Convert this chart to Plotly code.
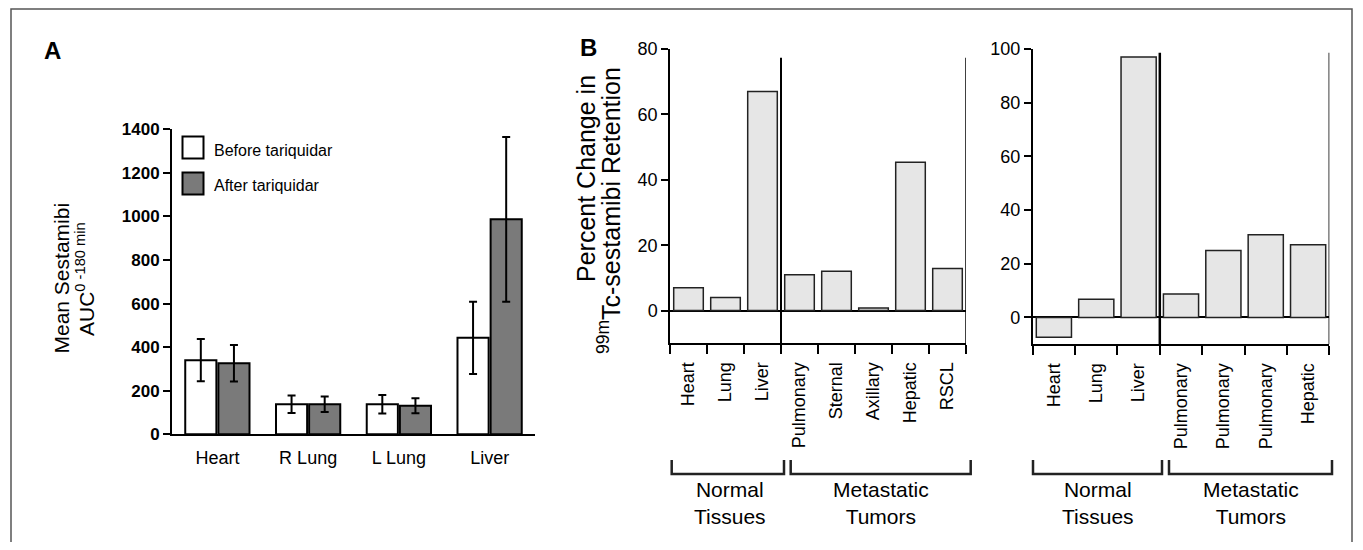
import plotly.graph_objects as go

# ---------------- data ----------------
a_categories = ["Heart", "R Lung", "L Lung", "Liver"]
a_before = [340, 138, 138, 443]
a_before_err = [97, 40, 42, 166]
a_after = [326, 138, 131, 987]
a_after_err = [84, 36, 34, 378]
a_ticks = [0, 200, 400, 600, 800, 1000, 1200, 1400]

b1_labels = ["Heart", "Lung", "Liver", "Pulmonary", "Sternal", "Axillary", "Hepatic", "RSCL"]
b1_values = [7, 4, 67, 11, 12, 0.8, 45.4, 12.9]
b1_normal = 3
b1_ticks = [0, 20, 40, 60, 80]

b2_labels = ["Heart", "Lung", "Liver", "Pulmonary", "Pulmonary", "Pulmonary", "Hepatic"]
b2_values = [-7.4, 6.8, 97, 8.7, 24.9, 30.8, 27.1]
b2_normal = 3
b2_ticks = [0, 20, 40, 60, 80, 100]

group_names = ["Normal<br>Tissues", "Metastatic<br>Tumors"]

# ---------------- helpers (screen pixel -> paper) ----------------
OFF = 8  # page body margin
W, H = 1363 - 2 * OFF, 550 - 2 * OFF
def X(px): return (px - OFF) / W
def Y(py): return 1 - (py - OFF) / H

FONT = "Liberation Sans, Arial, Helvetica, sans-serif"
fig = go.Figure()

# ---------------- panel A ----------------
fig.add_trace(go.Bar(
    x=a_categories, y=a_before, name="Before tariquidar",
    marker=dict(color="white", line=dict(color="black", width=2)),
    error_y=dict(type="data", array=a_before_err, color="black", thickness=2, width=4),
    xaxis="x", yaxis="y", showlegend=False))
fig.add_trace(go.Bar(
    x=a_categories, y=a_after, name="After tariquidar",
    marker=dict(color="#7a7a7a", line=dict(color="black", width=2)),
    error_y=dict(type="data", array=a_after_err, color="black", thickness=2, width=4),
    xaxis="x", yaxis="y", showlegend=False))

# ---------------- panel B1 ----------------
fig.add_trace(go.Bar(
    x=list(range(len(b1_labels))), y=b1_values, width=0.8,
    marker=dict(color="#e6e6e6", line=dict(color="#222", width=1.5)),
    xaxis="x2", yaxis="y2", showlegend=False))

# ---------------- panel B2 ----------------
fig.add_trace(go.Bar(
    x=list(range(len(b2_labels))), y=b2_values, width=0.83,
    marker=dict(color="#e6e6e6", line=dict(color="#222", width=1.5)),
    xaxis="x3", yaxis="y3", showlegend=False))

axis_common = dict(showgrid=False, zeroline=False, linecolor="black", color="black",
                   automargin=False)

fig.update_layout(
    width=W, height=H,
    margin=dict(l=0, r=0, t=0, b=0, pad=0, autoexpand=False),
    paper_bgcolor="white", plot_bgcolor="rgba(0,0,0,0)",
    font=dict(family=FONT, color="black"),
    barmode="group", bargap=0.27, bargroupgap=0.06,
    xaxis=dict(domain=[X(172), X(535)], anchor="y", showline=True, linewidth=2,
               ticks="", tickfont=dict(size=18), showgrid=False, zeroline=False,
               linecolor="black", ticklabelstandoff=6, automargin=False),
    yaxis=dict(domain=[Y(434.3), Y(129.3)], anchor="x", range=[0, 1400],
               tickvals=a_ticks, showline=True, linewidth=2, ticks="outside",
               ticklen=7, tickwidth=2, tickcolor="black",
               tickfont=dict(size=17, weight="bold"), **axis_common),
    xaxis2=dict(domain=[X(670), X(966)], anchor="y2", range=[-0.5, len(b1_labels) - 0.5],
                tickvals=list(range(len(b1_labels))), ticktext=b1_labels, ticks="",
                tickangle=-90, tickfont=dict(size=18), showline=True, linewidth=1.5,
                minor=dict(ticks="outside", tick0=-0.5, dtick=1, ticklen=9,
                           tickwidth=1.5, tickcolor="black"),
                ticklabelstandoff=10, **axis_common),
    yaxis2=dict(domain=[Y(343.3), Y(49)], anchor="x2", range=[-10, 80],
                tickvals=b1_ticks, showline=True, linewidth=1.5, ticks="outside",
                ticklen=7, tickwidth=1.5, tickcolor="black", tickfont=dict(size=18),
                showgrid=False, zeroline=True, zerolinecolor="black", zerolinewidth=1.5,
                linecolor="black", color="black", automargin=False),
    xaxis3=dict(domain=[X(1032.7), X(1329.3)], anchor="y3", range=[-0.5, len(b2_labels) - 0.5],
                tickvals=list(range(len(b2_labels))), ticktext=b2_labels, ticks="",
                tickangle=-90, tickfont=dict(size=18), showline=True, linewidth=1.5,
                minor=dict(ticks="outside", tick0=-0.5, dtick=1, ticklen=9,
                           tickwidth=1.5, tickcolor="black"),
                ticklabelstandoff=10, **axis_common),
    yaxis3=dict(domain=[Y(344.3), Y(49)], anchor="x3", range=[-10, 100],
                tickvals=b2_ticks, showline=True, linewidth=1.5, ticks="outside",
                ticklen=7, tickwidth=1.5, tickcolor="black", tickfont=dict(size=18),
                showgrid=False, zeroline=True, zerolinecolor="black", zerolinewidth=1.5,
                linecolor="black", color="black", automargin=False),
)

shapes = []
# outer frame (open at the bottom, as in the reference)
shapes.append(dict(type="path", xref="paper", yref="paper",
                   path=f"M {X(11)} -0.1 L {X(11)} {Y(9)} L {X(1352)} {Y(9)} L {X(1352)} -0.1",
                   line=dict(color="#555", width=1.5)))
# legend boxes (panel A)
shapes.append(dict(type="rect", xref="paper", yref="paper", x0=X(182.5), x1=X(203.5),
                   y0=Y(158.5), y1=Y(136.5), fillcolor="white", line=dict(color="black", width=2)))
shapes.append(dict(type="rect", xref="paper", yref="paper", x0=X(182.5), x1=X(203.5),
                   y0=Y(194.5), y1=Y(172.5), fillcolor="#7a7a7a", line=dict(color="black", width=2)))
# B1 divider and right border
shapes.append(dict(type="line", xref="x2", yref="y2", x0=b1_normal - 0.5, x1=b1_normal - 0.5,
                   y0=-10, y1=77.3, line=dict(color="black", width=2)))
shapes.append(dict(type="line", xref="x2", yref="y2", x0=len(b1_labels) - 0.5, x1=len(b1_labels) - 0.5,
                   y0=-10, y1=77.3, line=dict(color="black", width=1.5)))
# B2 divider and right border
shapes.append(dict(type="line", xref="x3", yref="y3", x0=b2_normal - 0.5, x1=b2_normal - 0.5,
                   y0=-10, y1=98.6, line=dict(color="black", width=2.5)))
shapes.append(dict(type="line", xref="x3", yref="y3", x0=len(b2_labels) - 0.5, x1=len(b2_labels) - 0.5,
                   y0=-10, y1=98.6, line=dict(color="black", width=1.5)))

def bracket(x0, x1):
    return dict(type="path", xref="paper", yref="paper",
                path=f"M {X(x0)} {Y(460)} L {X(x0)} {Y(474)} L {X(x1)} {Y(474)} L {X(x1)} {Y(460)}",
                line=dict(color="#222", width=2.5))

shapes += [bracket(671.7, 784), bracket(790.7, 970.7), bracket(1033, 1162), bracket(1169, 1332)]
fig.update_layout(shapes=shapes)

ann = []
def text(px, py, t, size, angle=0, bold=False, xanchor="center"):
    ann.append(dict(xref="paper", yref="paper", x=X(px), y=Y(py), text=t, showarrow=False,
                    textangle=angle, xanchor=xanchor, yanchor="middle",
                    font=dict(size=size, family=FONT, color="black",
                              weight="bold" if bold else "normal")))

text(52, 51, "A", 24, bold=True)
text(588, 48, "B", 24, bold=True)
text(212, 150, "Before tariquidar", 16, xanchor="left")
text(212, 186, "After tariquidar", 16, xanchor="left")
text(60.5, 278, "Mean Sestamibi", 21, angle=-90)
text(85, 279, "AUC<sup>0 -180 min</sup>", 21, angle=-90)
text(586, 179, "Percent Change in", 25, angle=-90)
text(609, 211, "<sup>99m</sup>Tc-sestamibi Retention", 25, angle=-90)
text(730, 503, group_names[0], 21)
text(881, 503, group_names[1], 21)
text(1098, 503, group_names[0], 21)
text(1251, 503, group_names[1], 21)
fig.update_layout(annotations=ann)

fig.write_html("out.html")
